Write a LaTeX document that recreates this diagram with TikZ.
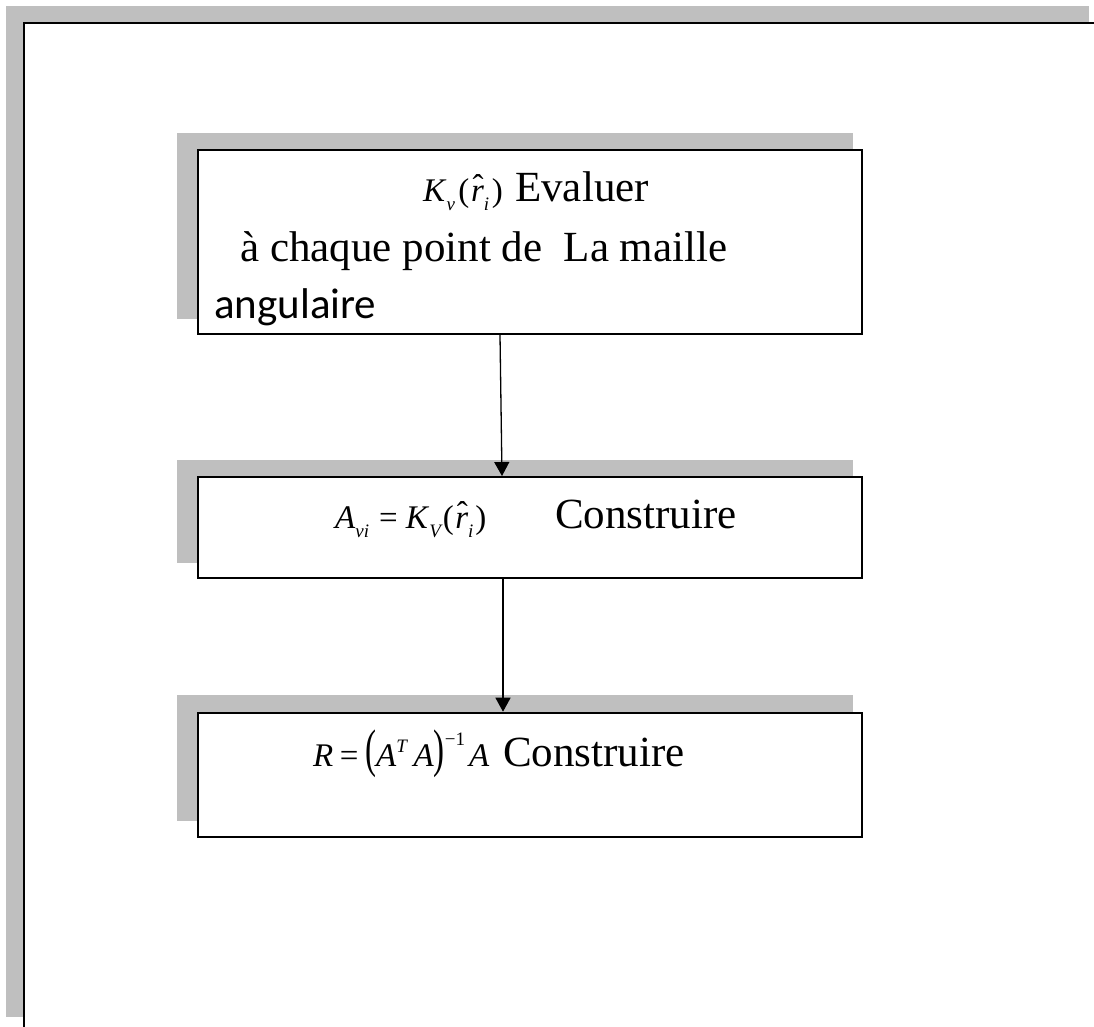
\documentclass[tikz,border=0pt]{standalone}
\usepackage{fontspec}
\setmainfont{Liberation Serif}
\newfontfamily\calibrifont{Carlito}
\usetikzlibrary{arrows.meta,calc}
\definecolor{shadegray}{RGB}{191,191,191}
\newcommand\mfont{\fontsize{33}{36}\selectfont}
\newcommand\sfnt{\fontsize{19}{19}\selectfont}
\newcommand\lo[1]{\raisebox{-0.3em}{\sfnt\itshape #1}}
\newcommand\hi[1]{\raisebox{0.42em}{\sfnt #1}}
\newcommand\rhat{\textit{r}\llap{\raisebox{0.12em}{\char"02C6}\kern0.01em}}
\begin{document}
\begin{tikzpicture}[x=1pt,y=-1pt,
  flowbox/.style={draw=black,line width=2pt,fill=white,minimum width=664pt,inner sep=0pt},
  txt/.style={anchor=base west,inner sep=0pt,font=\fontsize{43}{50}\selectfont},
  mth/.style={anchor=base west,inner sep=0pt,font=\mfont},
  arr/.style={line width=1.3pt,-{Triangle[width=15pt,length=14pt]}}]
\useasboundingbox (0,0) rectangle (1094,1026);
% outer frame with shadow
\fill[shadegray] (6,6) rectangle (1089,1017);
\fill[white] (24,23) rectangle (1094,1026);
\draw[line width=2.6pt] (24,1030) -- (24,23) -- (1100,23);
% shadows
\fill[shadegray] (177,133) rectangle (853,319);
\fill[shadegray] (177,460) rectangle (853,563);
\fill[shadegray] (177,695) rectangle (853,821);
% boxes
\node[flowbox,minimum height=184pt] (b1) at (530,242) {};
\node[flowbox,minimum height=101pt] (b2) at (530,527.5) {};
\node[flowbox,minimum height=124pt] (b3) at (530,774.7) {};
% box 1 text
\node[mth] (k1) at (423,201) {\textit{K}\lo{v}\kern0.1em(\kern0.05em\rhat\lo{i}\kern0.08em)};
\node[txt] (t1) at (515,201) {Evaluer};
\node[txt] (t2) at (240,261) {à chaque point de\ \ La maille};
\begin{scope}
\clip (198,150) rectangle (862,326);
\node[txt,font=\calibrifont\fontsize{43}{50}\selectfont] (t3) at (214,318) {angulaire};
\end{scope}
% box 2 text
\node[mth] (m2) at (335,528) {\textit{A}\lo{vi}\hspace{0.3em}=\hspace{0.25em}\textit{K}\lo{V}\kern0.06em(\kern0.04em\rhat\lo{i}\kern0.06em)};
\node[txt] (c2) at (555,528) {Construire};
% box 3 text
\node[mth] (m3) at (313,766) {\textit{R}\hspace{0.2em}=\hspace{0.2em}\scalebox{1}[1.6]{(}\textit{A}\hi{\textit{T}}\,\textit{A}\scalebox{1}[1.6]{)}\raisebox{0.62em}{\sfnt −1}\hspace{0.12em}\textit{A}};
\node[txt] (c3) at (503,766) {Construire};
% arrows
\coordinate (p1) at ($(b1.south west)+(303,0)$);
\coordinate (q1) at ($(b2.north west)+(305,0)$);
\draw[arr] (p1) -- (q1);
\coordinate (p2) at ($(b2.south west)+(306,0)$);
\coordinate (q2) at ($(b3.north west)+(306,0)$);
\draw[arr] (p2) -- (q2);
\end{tikzpicture}
\end{document}
